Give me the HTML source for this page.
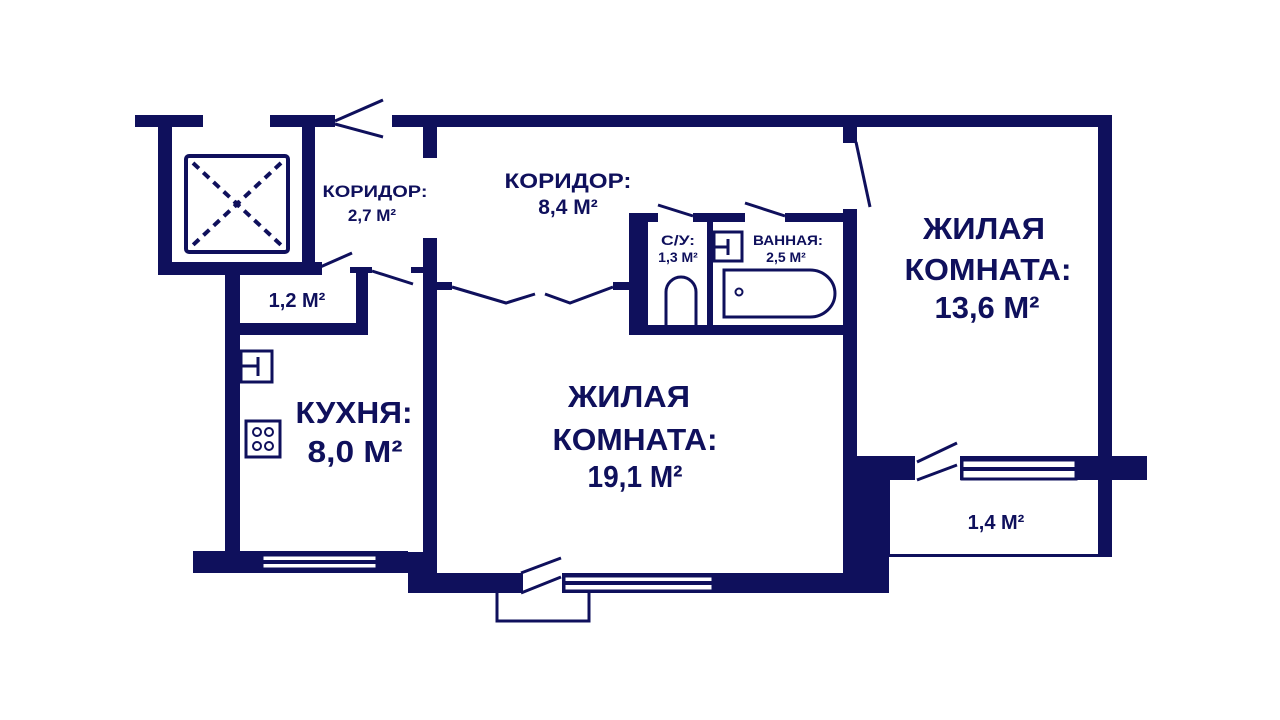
<!DOCTYPE html>
<html><head><meta charset="utf-8"><style>
html,body{margin:0;padding:0;background:#fff;}
svg{display:block;}
text{font-family:"Liberation Sans",sans-serif;font-weight:bold;fill:#0f105c;text-anchor:middle;}
</style></head><body>
<svg width="1280" height="720" viewBox="0 0 1280 720" xmlns="http://www.w3.org/2000/svg">
<g fill="#0f105c">
<rect x="135" y="115" width="68" height="12"/>
<rect x="158" y="115" width="14" height="160"/>
<rect x="158" y="262" width="164" height="13"/>
<rect x="270" y="115" width="65" height="12"/>
<rect x="302" y="115" width="13" height="160"/>
<rect x="392" y="115" width="720" height="12"/>
<rect x="423" y="115" width="14" height="43"/>
<rect x="1098" y="115" width="14" height="442"/>
<rect x="843" y="115" width="14" height="28"/>
<rect x="225" y="263" width="15" height="297"/>
<rect x="225" y="323" width="142" height="12"/>
<rect x="356" y="267" width="12" height="68"/>
<rect x="350" y="267" width="22" height="6"/>
<rect x="423" y="238" width="14" height="340"/>
<rect x="411" y="267" width="14" height="6"/>
<rect x="433" y="282" width="19" height="8"/>
<rect x="613" y="282" width="16" height="8"/>
<rect x="193" y="551" width="215" height="22"/>
<rect x="408" y="552" width="29" height="41"/>
<rect x="408" y="573" width="460" height="20"/>
<rect x="843" y="209" width="14" height="384"/>
<rect x="843" y="456" width="46" height="137"/>
<rect x="843" y="456" width="72" height="24"/>
<rect x="960" y="456" width="187" height="24"/>
<rect x="629" y="213" width="19" height="122"/>
<rect x="629" y="325" width="220" height="10"/>
<rect x="629" y="213" width="29" height="9"/>
<rect x="693" y="213" width="52" height="9"/>
<rect x="785" y="213" width="60" height="9"/>
<rect x="707" y="213" width="6" height="122"/>
<rect x="887" y="480" width="3" height="77"/>
<rect x="887" y="554" width="225" height="3"/>
</g>
<g fill="#fff">
<rect x="262" y="555" width="115" height="14"/>
<rect x="564" y="576" width="149" height="15"/>
<rect x="962" y="460" width="114" height="19"/>
<rect x="523" y="573" width="39" height="20"/>
</g>
<g fill="#0f105c">
<rect x="262" y="560" width="115" height="4"/>
<rect x="564" y="581" width="149" height="4"/>
<rect x="962" y="467" width="114" height="4"/>
</g>
<g fill="none" stroke="#0f105c" stroke-width="3">
<rect x="262" y="555" width="115" height="14"/>
<rect x="564" y="576" width="149" height="15"/>
<rect x="962" y="460" width="114" height="19"/>
<line x1="335" y1="121" x2="383" y2="100"/>
<line x1="335" y1="124" x2="383" y2="137"/>
<line x1="318" y1="268" x2="352" y2="253"/>
<line x1="372" y1="271" x2="413" y2="284"/>
<polyline points="452,287 506,303 535,294"/>
<polyline points="545,294 570,303 613,287"/>
<line x1="658" y1="205" x2="693" y2="216"/>
<line x1="745" y1="203" x2="785" y2="216"/>
<line x1="856" y1="142" x2="870" y2="207"/>
<line x1="917" y1="480" x2="957" y2="465"/>
<line x1="917" y1="462" x2="957" y2="443"/>
<line x1="521" y1="593" x2="561" y2="577"/>
<line x1="521" y1="573" x2="561" y2="558"/>
<polyline points="497,593 497,621 589,621 589,593"/>
<rect x="186" y="156" width="102" height="96" rx="3" stroke-width="4"/>
<line x1="193" y1="163" x2="281" y2="245" stroke-dasharray="8,6" stroke-width="4"/>
<line x1="281" y1="163" x2="193" y2="245" stroke-dasharray="8,6" stroke-width="4"/>
<rect x="241" y="351" width="31" height="31"/>
<rect x="246" y="421" width="34" height="36"/>
<rect x="714" y="232" width="28" height="29"/>
<path d="M724,270 H810 A25,23.5 0 0 1 810,317 H724 Z"/>
<path d="M666,325 V292 A15,15 0 0 1 696,292 V325"/>
</g>
<g stroke="#0f105c" stroke-width="3" fill="none">
<line x1="241" y1="366" x2="258" y2="366"/><line x1="258" y1="357" x2="258" y2="376"/>
<line x1="714" y1="247" x2="728" y2="247"/><line x1="728" y1="239" x2="728" y2="255"/>
<circle cx="257" cy="432" r="4" stroke-width="2"/><circle cx="269" cy="432" r="4" stroke-width="2"/>
<circle cx="257" cy="446" r="4" stroke-width="2"/><circle cx="269" cy="446" r="4" stroke-width="2"/>
<circle cx="739" cy="292" r="3.5" stroke-width="2"/>
</g>
<circle cx="237" cy="204" r="3.5" fill="#0f105c"/>
<text x="375" y="197" font-size="17" textLength="105" lengthAdjust="spacingAndGlyphs">КОРИДОР:</text>
<text x="372" y="221" font-size="17">2,7 М²</text>
<text x="568" y="188" font-size="21" textLength="127" lengthAdjust="spacingAndGlyphs">КОРИДОР:</text>
<text x="568" y="214" font-size="21">8,4 М²</text>
<text x="297" y="307" font-size="20">1,2 М²</text>
<text x="678" y="245" font-size="14" textLength="34" lengthAdjust="spacingAndGlyphs">С/У:</text>
<text x="678" y="262" font-size="14">1,3 М²</text>
<text x="788" y="245" font-size="14" textLength="70" lengthAdjust="spacingAndGlyphs">ВАННАЯ:</text>
<text x="786" y="262" font-size="14">2,5 М²</text>
<text x="984" y="239" font-size="31" textLength="122" lengthAdjust="spacingAndGlyphs">ЖИЛАЯ</text>
<text x="988" y="280" font-size="31" textLength="167" lengthAdjust="spacingAndGlyphs">КОМНАТА:</text>
<text x="987" y="318" font-size="31" textLength="105" lengthAdjust="spacingAndGlyphs">13,6 М²</text>
<text x="629" y="407" font-size="31" textLength="122" lengthAdjust="spacingAndGlyphs">ЖИЛАЯ</text>
<text x="635" y="450" font-size="31" textLength="165" lengthAdjust="spacingAndGlyphs">КОМНАТА:</text>
<text x="635" y="487" font-size="31" textLength="95" lengthAdjust="spacingAndGlyphs">19,1 М²</text>
<text x="354" y="423" font-size="31" textLength="117" lengthAdjust="spacingAndGlyphs">КУХНЯ:</text>
<text x="355" y="462" font-size="31" textLength="95" lengthAdjust="spacingAndGlyphs">8,0 М²</text>
<text x="996" y="529" font-size="20">1,4 М²</text>
</svg>
</body></html>
